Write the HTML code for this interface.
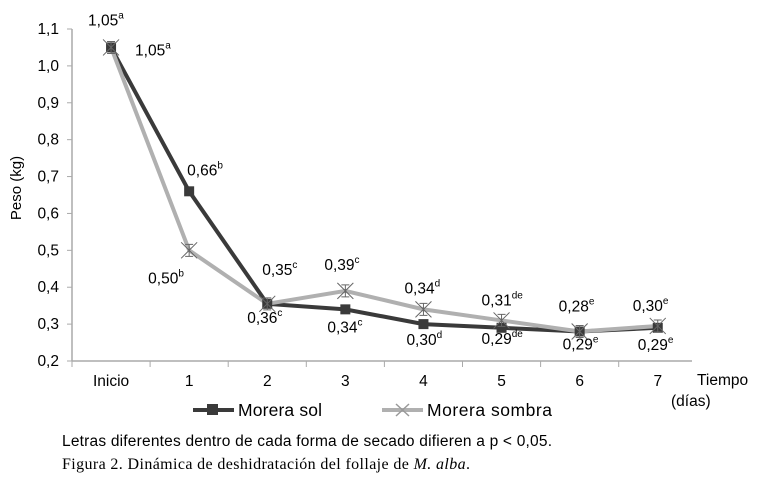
<!DOCTYPE html>
<html><head><meta charset="utf-8"><style>
body{margin:0;background:#fff;}
svg text{font-family:"Liberation Sans",sans-serif;}
</style></head><body>
<svg width="762" height="481" xmlns="http://www.w3.org/2000/svg">
<g id="axes"></g><g id="series"></g><g id="labels"></g>
<text x="0" y="0" transform="translate(21,188) rotate(-90)" text-anchor="middle" font-size="15">Peso (kg)</text>
<text x="697" y="385" font-size="15.5">Tiempo</text>
<text x="671" y="406" font-size="15.5">(días)</text>
<g>
<line x1="193" y1="410" x2="234" y2="410" stroke="#3a3a3a" stroke-width="4"/>
<rect x="207" y="404" width="11" height="11" fill="#3a3a3a"/>
<text x="238" y="416" font-size="17.5" textLength="84">Morera sol</text></g>
<g>
<line x1="382" y1="410" x2="423" y2="410" stroke="#b0b0b0" stroke-width="4"/>
<path d="M396 404 L409 416 M409 404 L396 416" stroke="#999" stroke-width="1.5"/>
<text x="427" y="416" font-size="17.5" textLength="125">Morera sombra</text></g>
<text x="62" y="446" font-size="15.5" textLength="490">Letras diferentes dentro de cada forma de secado difieren a p &lt; 0,05.</text>
<text x="62" y="469" font-size="16" textLength="408" style="font-family:'Liberation Serif',serif">Figura 2. Dinámica de deshidratación del follaje de <tspan font-style="italic">M. alba</tspan>.</text>
</svg>
<script>
const categories=["Inicio","1","2","3","4","5","6","7"];
const solValues=[1.05,0.66,0.355,0.34,0.30,0.29,0.28,0.29];
const sombraValues=[1.05,0.50,0.355,0.39,0.34,0.31,0.28,0.295];
const solLabels=["1,05|a","0,66|b","0,36|c","0,34|c","0,30|d","0,29|de","0,29|e","0,29|e"];
const sombraLabels=["1,05|a","0,50|b","0,35|c","0,39|c","0,34|d","0,31|de","0,28|e","0,30|e"];
const yTicks=[0.2,0.3,0.4,0.5,0.6,0.7,0.8,0.9,1.0,1.1];
const NS="http://www.w3.org/2000/svg";
const x0=72,step=78.1;
const xs=i=>x0+step*(i+0.5);
const ys=v=>361-(v-0.2)/0.9*332;
function mk(tag,attrs,parent){const e=document.createElementNS(NS,tag);for(const k in attrs)e.setAttribute(k,attrs[k]);parent.appendChild(e);return e;}
const ax=document.getElementById('axes');
const yl=mk('line',{x1:x0,y1:ys(1.1),x2:x0,y2:361,stroke:'#aaa','stroke-width':1.5},ax);


const xl=mk('line',{x1:x0,y1:361,x2:692,y2:361,stroke:'#aaa','stroke-width':1.5},ax);


yTicks.forEach(v=>{
 mk('line',{x1:x0-5,y1:ys(v),x2:x0,y2:ys(v),stroke:'#aaa'},ax);
 const t=mk('text',{x:x0-13,y:ys(v)+5,'text-anchor':'end','font-size':15.5},ax);
 t.textContent=v.toFixed(1).replace('.',',');
 
 
});
for(let i=0;i<categories.length;i++) mk('line',{x1:x0+step*i,y1:361,x2:x0+step*i,y2:367,stroke:'#aaa'},ax);
categories.forEach((c,i)=>{
 const t=mk('text',{x:xs(i),y:386,'text-anchor':'middle','font-size':15.5},ax);
 t.textContent=c;
 
 
});
const sg=document.getElementById('series');
function line(vals,color,name){
 const p=mk('polyline',{points:vals.map((v,i)=>xs(i)+','+ys(v)).join(' '),fill:'none',stroke:color,'stroke-width':4},sg);
 
 
}
line(solValues,'#3a3a3a','line-morera-sol');
line(sombraValues,'#b0b0b0','line-morera-sombra');
solValues.forEach((v,i)=>{
 const r=mk('rect',{x:xs(i)-5,y:ys(v)-5,width:10,height:10,fill:'#3a3a3a'},sg);
 
 
});
sombraValues.forEach((v,i)=>{
 const x=xs(i),y=ys(v);
 const p=mk('path',{d:`M${x-8} ${y-8}L${x+8} ${y+8}M${x+8} ${y-8}L${x-8} ${y+8}M${x-4} ${y-6}H${x+4}M${x} ${y-6}V${y+6}M${x-4} ${y+6}H${x+4}`,stroke:'#666','stroke-width':1},sg);
 
 
});
const lg=document.getElementById('labels');
const solOff=[[-23,-22],[-2,-16],[-20,19],[-18,23],[-17,21],[-20,16],[-17,18],[-20,22]];
const sombraOff=[[24,8],[-41,33],[-5,-29],[-21,-21],[-19,-16],[-20,-15],[-21,-20],[-25,-15]];
function lab(txt,x,y){
 const [n,s]=txt.split('|');
 const t=mk('text',{x:x,y:y,'font-size':15.5},lg);
 t.textContent=n;
 const sp=mk('tspan',{dy:-7,'font-size':10},t);sp.textContent=s;
 
 
}
solValues.forEach((v,i)=>lab(solLabels[i],xs(i)+solOff[i][0],ys(v)+solOff[i][1]));
sombraValues.forEach((v,i)=>lab(sombraLabels[i],xs(i)+sombraOff[i][0],ys(v)+sombraOff[i][1]));
</script>
</body></html>
